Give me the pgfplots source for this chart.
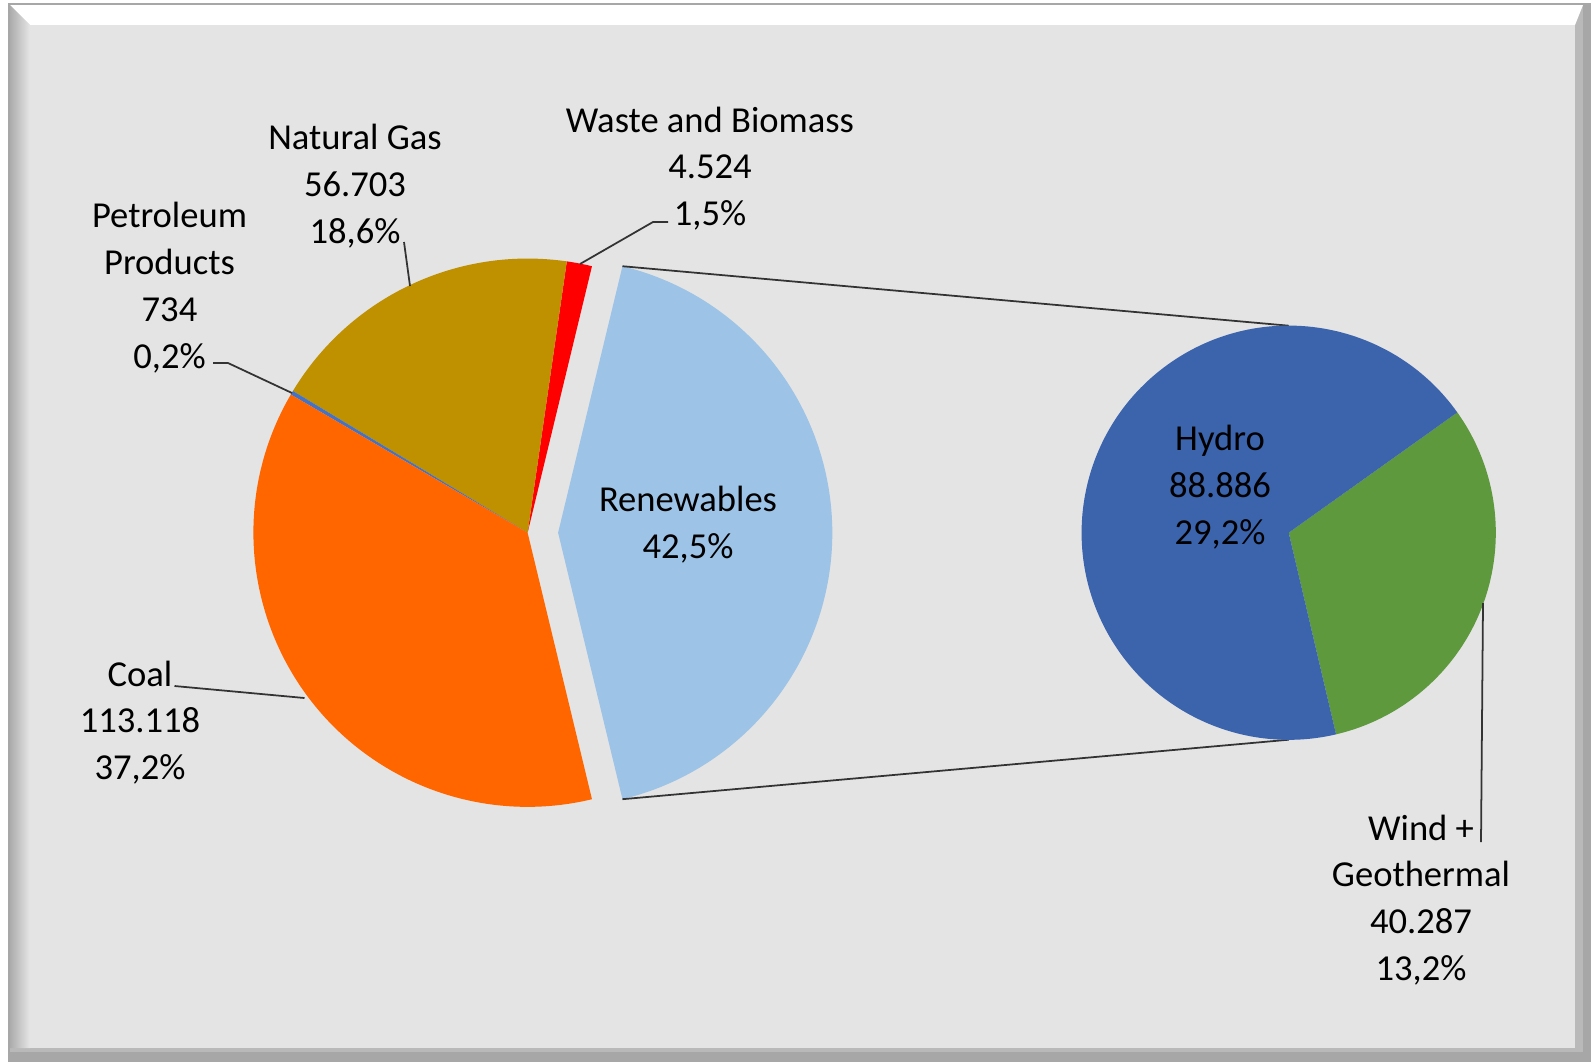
\documentclass[border=0pt]{standalone}
\usepackage{pgfplots}
\pgfplotsset{compat=1.18}
\usepackage{fontspec}
\setmainfont{Carlito}
\definecolor{cCoal}{HTML}{FF6600}
\definecolor{cGas}{HTML}{BF9000}
\definecolor{cWaste}{HTML}{FF0000}
\definecolor{cPetro}{HTML}{4472C4}
\definecolor{cRenew}{HTML}{9DC3E6}
\definecolor{cHydro}{HTML}{3B64AD}
\definecolor{cWind}{HTML}{5E9A3D}
\definecolor{bgIn}{HTML}{E4E4E4}

% values (thousands)
\def\vCoal{113.118}
\def\vGas{56.703}
\def\vPetro{0.734}
\def\vWaste{4.524}
\def\vHydro{88.886}
\def\vWind{40.287}

\pgfmathsetmacro\tot{\vCoal+\vGas+\vPetro+\vWaste+\vHydro+\vWind}
\pgfmathsetmacro\ren{\vHydro+\vWind}
\pgfmathsetmacro\aA{(\ren/\tot)*180}
\pgfmathsetmacro\aB{\aA+(\vWaste/\tot)*360}
\pgfmathsetmacro\aC{\aB+(\vGas/\tot)*360}
\pgfmathsetmacro\aD{\aC+(\vPetro/\tot)*360}
\pgfmathsetmacro\aE{360-\aA}
\pgfmathsetmacro\wEnd{35.5}
\pgfmathsetmacro\wStart{\wEnd-(\vWind/\ren)*360}
\pgfmathsetmacro\hEnd{\wStart+360}
\def\rA{2.74cm}
\def\rB{2.07cm}

\newcommand\slice[6]{% color, cx, cy, a1, a2, radius
  \fill[#1] (axis cs:#2,#3) -- ++(#4:#6) arc[start angle=#4,end angle=#5,radius=#6] -- cycle;}
\tikzset{lbl/.style={font=\fontsize{10.4}{13.3}\selectfont,align=center,text=black,inner sep=0pt},
  ldr/.style={black!80,line width=0.5pt}}

\begin{document}
\begin{tikzpicture}
\begin{axis}[x=0.01cm,y=0.01cm,xmin=0,xmax=1591,ymin=0,ymax=1062,
  hide axis,clip=false,disabledatascaling]
% frame
\fill[white] (axis cs:0,0) rectangle (axis cs:1591,1062);
\fill[gray!85!black!60] (axis cs:8,0) rectangle (axis cs:1591,1059);
\fill[gray!55] (axis cs:10,10) rectangle (axis cs:1583,1057);
\fill[white] (axis cs:10,1057) -- (axis cs:1583,1057) -- (axis cs:1575,1037) -- (axis cs:30,1037) -- cycle;
\shade[left color=gray!65,right color=gray!20] (axis cs:10,14) -- (axis cs:30,14) -- (axis cs:30,1037) -- (axis cs:10,1057) -- cycle;
\fill[bgIn] (axis cs:30,14) rectangle (axis cs:1575,1037);
% main pie
\slice{cWaste}{527.6}{529.3}{\aA}{\aB}{\rA}
\slice{cGas}{527.6}{529.3}{\aB}{\aC}{\rA}
\slice{cPetro}{527.6}{529.3}{\aC}{\aD}{\rA}
\slice{cCoal}{527.6}{529.3}{\aD}{\aE}{\rA}
\slice{cRenew}{558.1}{529.3}{-\aA}{\aA}{\rA}
% connectors
\draw[ldr] (axis cs:558.1,529.3) ++(\aA:\rA) -- (axis cs:1288.7,736.3);
\draw[ldr] (axis cs:558.1,529.3) ++(-\aA:\rA) -- (axis cs:1288.7,322.3);
% second pie
\slice{cWind}{1288.7}{529.3}{\wStart}{\wEnd}{\rB}
\slice{cHydro}{1288.7}{529.3}{\wEnd}{\hEnd}{\rB}
% leader lines
\draw[ldr] (axis cs:404,820) -- (axis cs:410,776);
\draw[ldr] (axis cs:213,699) -- (axis cs:228,699) -- (axis cs:292,669);
\draw[ldr] (axis cs:668,840) -- (axis cs:653,840) -- (axis cs:580,798);
\draw[ldr] (axis cs:174.5,376) -- (axis cs:304.5,364);
\draw[ldr] (axis cs:1483,459) -- (axis cs:1481,220);
% labels
\node[lbl] at (axis cs:355,876) {Natural Gas\\56.703\\18,6\%};
\node[lbl] at (axis cs:169.5,774.5) {Petroleum\\Products\\734\\0,2\%};
\node[lbl] at (axis cs:710,893.5) {Waste and Biomass\\4.524\\1,5\%};
\node[lbl] at (axis cs:140,339.5) {Coal\\113.118\\37,2\%};
\node[lbl] at (axis cs:688,537.5) {Renewables\\42,5\%};
\node[lbl] at (axis cs:1220,575) {Hydro\\88.886\\29,2\%};
\node[lbl] at (axis cs:1421,162) {Wind +\\Geothermal\\40.287\\13,2\%};
\end{axis}
\end{tikzpicture}
\end{document}
